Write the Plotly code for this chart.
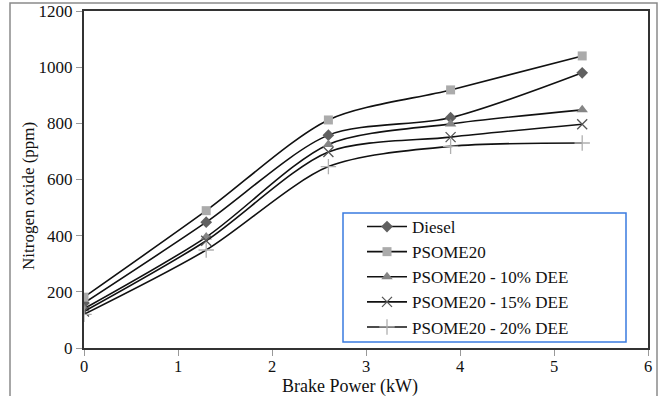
import plotly.graph_objects as go

brake_power = [0, 1.3, 2.6, 3.9, 5.3]
diesel = [160, 448, 758, 820, 980]
psome20 = [181, 489, 812, 919, 1040]
dee10 = [140, 395, 725, 798, 848]
dee15 = [130, 382, 698, 751, 797]
dee20 = [120, 349, 646, 718, 730]

series = [
    ("Diesel", diesel, dict(symbol="diamond", size=9, color="#606060")),
    ("PSOME20", psome20, dict(symbol="square", size=9, color="#ababab")),
    ("PSOME20 - 10% DEE", dee10, dict(symbol="triangle-up", size=10, color="#858585")),
    ("PSOME20 - 15% DEE", dee15, dict(symbol="x-thin", size=10, color="#555555", line=dict(width=1.3, color="#555555"))),
    ("PSOME20 - 20% DEE", dee20, dict(symbol="cross-thin", size=11, color="#b0b0b0", line=dict(width=1.3, color="#b0b0b0"))),
]

fig = go.Figure()
for name, vals, mk in series:
    fig.add_trace(go.Scatter(
        x=brake_power, y=vals, name=name, mode="lines+markers",
        line=dict(color="#111111", width=1.6, shape="spline", smoothing=0.8),
        marker=mk,
    ))

L, R, T, B = 84, 648, 11, 348
W, H = 660, 396
pw, ph = R - L, B - T

def px(x):
    return (x - L) / pw

def py(y):
    return (B - y) / ph

FONT = "Liberation Serif, Times New Roman, serif"

fig.update_layout(
    width=W, height=H, autosize=False,
    margin=dict(l=L, r=W - R, t=T, b=H - B, pad=0, autoexpand=False),
    paper_bgcolor="white", plot_bgcolor="white",
    font=dict(family=FONT, color="#111111"),
    showlegend=True,
    legend=dict(
        x=px(362), y=py(209), xanchor="left", yanchor="top",
        bgcolor="rgba(0,0,0,0)", borderwidth=0,
        font=dict(size=17, family=FONT, color="#111111"),
        tracegroupgap=0, itemwidth=40,
    ),
    xaxis=dict(
        range=[0, 6], dtick=1, showgrid=False, zeroline=False, automargin=False,
        showline=True, linecolor="#333333", linewidth=2, mirror=True,
        ticks="outside", ticklen=6, tickcolor="#999999", tickwidth=1,
        tickfont=dict(size=16.5), ticklabelstandoff=-4,
    ),
    yaxis=dict(
        range=[0, 1200], dtick=200, showgrid=False, zeroline=False, automargin=False,
        showline=True, linecolor="#333333", linewidth=2, mirror=True,
        ticks="outside", ticklen=6, tickcolor="#999999", tickwidth=1,
        tickfont=dict(size=17),
    ),
    annotations=[
        dict(text="Brake Power (kW)", xref="paper", yref="paper",
             x=px(350), y=py(387), xanchor="center", yanchor="middle",
             showarrow=False, font=dict(size=18, family=FONT)),
        dict(text="Nitrogen oxide (ppm)", xref="paper", yref="paper",
             x=px(28), y=py(196), xanchor="center", yanchor="middle", textangle=-90,
             showarrow=False, font=dict(size=17, family=FONT)),
    ],
    shapes=[
        dict(type="path", xref="paper", yref="paper",
             path=f"M {px(10)} {py(400)} L {px(10)} {py(3)} L {px(657)} {py(3)} L {px(657)} {py(400)}",
             line=dict(color="#8a8a8a", width=1.5)),
        dict(type="rect", xref="paper", yref="paper",
             x0=px(343), x1=px(626), y0=py(342), y1=py(213),
             line=dict(color="#3a7be0", width=1.5), fillcolor="white", layer="below"),
    ],
)

fig.write_html("out.html", config={"displayModeBar": False},
               post_script="document.body.style.margin='0';")
